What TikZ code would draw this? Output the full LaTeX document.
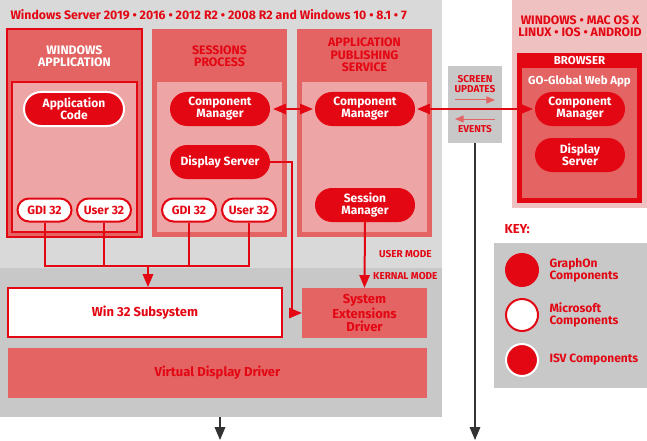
\documentclass[tikz,border=0pt]{standalone}
\usepackage{fontspec}
\setmainfont{Fira Sans}
\usetikzlibrary{arrows,calc,shapes.misc}

\definecolor{goRed}{HTML}{E30613}
\definecolor{goMid}{HTML}{E46464}
\definecolor{goLight}{HTML}{EEA5A5}
\definecolor{goPink}{HTML}{F0C1C1}
\definecolor{goGrayA}{HTML}{D9D9D9}
\definecolor{goGrayB}{HTML}{C8C8C8}
\definecolor{goDark}{HTML}{333333}

\newcommand{\fnt}[1]{\bfseries\fontsize{#1}{#1}\selectfont}

\tikzset{
    pill/.style={rounded rectangle, fill=goRed, text=white, font=\fnt{12}, align=center,
        minimum width=100pt, minimum height=34pt, inner sep=0pt},
    isvpill/.style={pill, draw=white, line width=2pt},
    mspill/.style={rounded rectangle, draw=goRed, line width=2pt, fill=white, text=goRed,
        font=\fnt{12}, minimum width=54pt, minimum height=23pt, inner sep=0pt},
    procbox/.style={rectangle, fill=goMid, minimum width=135pt, minimum height=208pt, inner sep=0pt},
    innerbox/.style={rectangle, fill=goLight, minimum width=125pt, minimum height=150pt, inner sep=0pt},
    head/.style={font=\fnt{12.3}, align=center, text=goRed},
    smalltext/.style={font=\fnt{10}, align=center, text=goRed},
    kernbox/.style={rectangle, fill=goMid, text=goRed, font=\fnt{13}, align=center,
        minimum height=50pt, inner sep=0pt},
    keytext/.style={font=\fnt{12}, anchor=west, align=left, text=goRed},
    link/.style={goRed, line width=2pt},
    outlink/.style={goDark, line width=2pt},
    >=triangle 45
}

\begin{document}
\begin{tikzpicture}[x=1pt,y=-1pt]
            \useasboundingbox (0,0) rectangle (647,441);

            % server side
            \fill[goGrayA] (0,0) rectangle (442,268);
            \fill[goGrayB] (0,268) rectangle (442,417);
            \node[head, anchor=west] (title) at (7,15) {Windows Server 2019 • 2016 • 2012 R2 • 2008 R2 and Windows 10 • 8.1 • 7};

            \node[procbox, draw=goRed, line width=2pt] (winapp) at (74.5,133) {};
            \node[innerbox, draw=goRed, line width=2pt] (winin) at (74.5,157) {};
            \node[head, text=white] (winhead) at (74.5,56) {WINDOWS\\APPLICATION};

            \node[procbox] (sess) at (219.5,133) {};
            \node[innerbox] (sessin) at (219.5,157) {};
            \node[head] (sesshead) at (219.5,56) {SESSIONS\\PROCESS};

            \node[procbox] (aps) at (364.5,133) {};
            \node[innerbox] (apsin) at (364.5,157) {};
            \node[head] (apshead) at (364.5,55) {APPLICATION\\PUBLISHING\\SERVICE};

            \node[isvpill] (appcode) at (74,109) {Application\\Code};
            \node[mspill] (gdiA) at (44.5,210) {GDI 32};
            \node[mspill] (userA) at (104,210) {User 32};

            \node[pill] (cmA) at (220,109) {Component\\Manager};
            \node[pill] (dsA) at (220,162) {Display Server};
            \node[mspill] (gdiB) at (189,210) {GDI 32};
            \node[mspill] (userB) at (249,210) {User 32};

            \node[pill] (cmB) at (365,109) {Component\\Manager};
            \node[pill] (smB) at (365,205) {Session\\Manager};

            \node[rectangle, draw=goRed, line width=2pt, fill=white, text=goRed, font=\fnt{13},
                minimum width=274pt, minimum height=49pt, inner sep=0pt] (win32) at (145,312.5) {Win 32 Subsystem};
            \node[kernbox, minimum width=125pt] (sed) at (364.5,313) {System\\Extensions\\Driver};
            \node[kernbox, minimum width=419pt] (vdd) at (217.5,373) {Virtual Display Driver};

            \node[smalltext, anchor=west, inner sep=0pt] (umode) at (379,254) {USER MODE};
            \node[smalltext, anchor=west, inner sep=0pt] (kmode) at (373,276) {KERNAL MODE};

            % client side
            \fill[goPink] (512,0) rectangle (647,208);
            \node[head] (oshead) at (580,26) {WINDOWS • MAC OS X\\LINUX • IOS • ANDROID};
            \node[rectangle, fill=goRed, minimum width=125pt, minimum height=150pt, inner sep=0pt] (browser) at (579.5,128) {};
            \node[rectangle, fill=goMid, minimum width=115pt, minimum height=130pt, inner sep=0pt] (webapp) at (579.5,133) {};
            \node[head, text=white, font=\fnt{11.5}] (brhead) at (579.5,61) {BROWSER};
            \node[head, text=white, font=\fnt{11.5}] (wahead) at (579.5,81) {GO-Global Web App};
            \node[pill, minimum width=90pt] (cmC) at (580,109) {Component\\Manager};
            \node[pill, minimum width=90pt] (dsC) at (580,155) {Display\\Server};

            % network
            \node[rectangle, fill=goGrayB, minimum width=54pt, minimum height=77pt, inner sep=0pt] (upd) at (475,104.5) {};
            \node[smalltext] (updtxt) at (475,84) {SCREEN\\UPDATES};
            \node[smalltext] (evtxt) at (475,129) {EVENTS};
            \draw[->, goMid, line width=1pt] ($(upd.center)+(-20,-4.5)$) -- ($(upd.center)+(20,-4.5)$);
            \draw[->, goMid, line width=1pt] ($(upd.center)+(20,14.5)$) -- ($(upd.center)+(-20,14.5)$);

            \coordinate (bus) at (148,266);
            \coordinate (dsbend) at (292,162);
            \coordinate (srvout) at (220,417);
            \coordinate (srvend) at (220,440);
            \coordinate (netend) at (475,440);

            \draw[link] (gdiA.south) -- (gdiA.south |- bus) -| (userB.south);
            \draw[link] (userA.south) -- (userA.south |- bus);
            \draw[link] (gdiB.south) -- (gdiB.south |- bus);
            \draw[link, ->] (bus) -- (bus |- win32.north);
            \draw[link, ->] (dsA.east) -- (dsbend) |- (sed.west);
            \draw[link, ->] (smB.south) -- (sed.north);
            \draw[link, <->, shorten <=3pt, shorten >=2pt] (cmA.east) -- (cmB.west);
            \draw[link, <->, shorten <=2pt, shorten >=2pt] (cmB.east) -- (cmC.west);
            \draw[outlink, ->] (upd.south) -- (netend);
            \draw[outlink, ->] (srvout) -- (srvend);

            % key
            \node[head, anchor=west, font=\fnt{13}] (keyhead) at (501,229) {KEY:};
            \fill[goGrayB] (494,243) rectangle (647,388);
            \node[circle, fill=goRed, minimum size=34pt, inner sep=0pt] (keyA) at (522,270) {};
            \node[circle, fill=white, draw=goRed, line width=2pt, minimum size=32pt, inner sep=0pt] (keyB) at (522,315) {};
            \node[circle, fill=goRed, draw=white, line width=2pt, minimum size=32pt, inner sep=0pt] (keyC) at (522,360) {};
            \node[keytext] (keyAt) at (546,270) {GraphOn\\Components};
            \node[keytext] (keyBt) at (546,315) {Microsoft\\Components};
            \node[keytext] (keyCt) at (546,360) {ISV Components};
\end{tikzpicture}
\end{document}
